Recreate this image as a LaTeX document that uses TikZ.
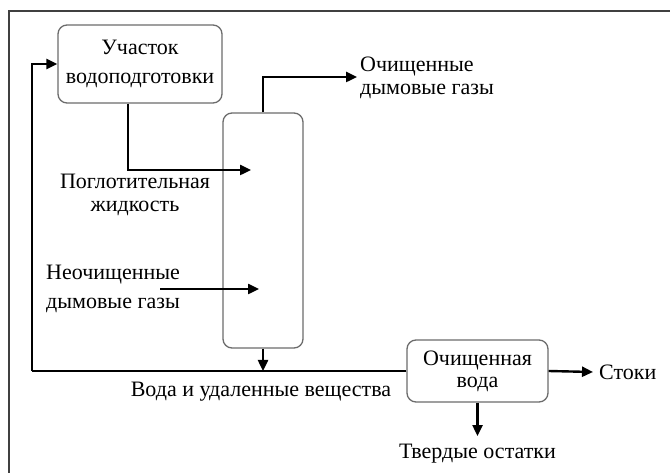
\documentclass[tikz,border=0pt]{standalone}
\usepackage{fontspec}
\setmainfont{Liberation Serif}
\usetikzlibrary{arrows.meta}
\begin{document}
\begin{tikzpicture}[x=1pt,y=-1pt,
  unit/.style={draw=gray!85!black, line width=1.3pt, rounded corners=9pt, fill=white},
  lbl/.style={inner sep=0pt, font=\fontsize{22}{23}\selectfont},
  flow/.style={draw=black, line width=2.4pt},
  arr/.style={flow, -{Triangle[length=11pt,width=10pt]}},
  frame/.style={draw=black!75, line width=2.5pt}]
\useasboundingbox (0,0) rectangle (670,473);
% white page, running past the page edges
\fill[white] (-6,-6) rectangle (676,479);
\draw[frame] (9,480) -- (9,11) -- (680,11);

% process units
\node[unit, minimum width=164pt, minimum height=78pt, align=center,
      font=\fontsize{22}{29}\selectfont] (prep) at (140,64) {Участок\\водоподготовки};
\node[unit, minimum width=80pt, minimum height=235pt] (col) at (263,230.5) {};
\node[unit, minimum width=141pt, minimum height=62pt, align=center,
      font=\fontsize{22}{22}\selectfont] (wbox) at (477.5,371) {Очищенная\\вода};

% stream labels
\node[lbl, align=left, anchor=west] (clean) at (360,78) {Очищенные\\дымовые газы};
\node[lbl, align=center] (absl) at (135,195) {Поглотительная\\жидкость};
\node[lbl, align=left, anchor=west, font=\fontsize{22}{29}\selectfont] (raw) at (46,289) {Неочищенные\\дымовые газы};
\node[lbl] (waste) at (261,392) {Вода и удаленные вещества};
\node[lbl, anchor=west] (drain) at (599,372) {Стоки};
\node[lbl, anchor=north] (solid) at (477.5,444) {Твердые остатки};

% connector end points
\coordinate (absIn) at (251,170);
\coordinate (gasFrom) at (160,289);
\coordinate (gasIn) at (259,289);
\coordinate (jn) at (263,371);
\coordinate (loop) at (32,371);
\coordinate (solidTip) at (477.5,436);
\coordinate (drainTip) at (593,372);
\coordinate (cleanTip) at (357,77);

% streams
\draw[arr] (col.north) |- (cleanTip);
\draw[arr] ([xshift=-12pt]prep.south) |- (absIn);
\draw[arr] (gasFrom) -- (gasIn);
\draw[arr] (col.south) -- (jn);
\draw[flow] (wbox.west) -- (loop);
\draw[arr] (loop) |- (prep.west);
\draw[arr] (wbox.east) -- (drainTip);
\draw[arr] (wbox.south) -- (solidTip);
\end{tikzpicture}
\end{document}
